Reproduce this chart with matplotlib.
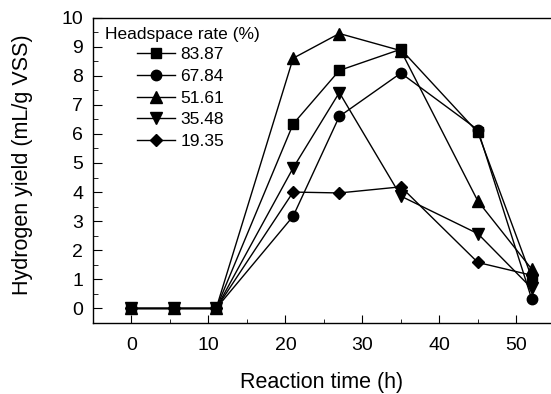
import numpy as np
import matplotlib
matplotlib.use("Agg")
import matplotlib.pyplot as plt
from matplotlib.ticker import MultipleLocator

# reaction time (h)
time_h = [0, 5.5, 11, 21, 27, 35, 45, 52]

rates = ["83.87", "67.84", "51.61", "35.48", "19.35"]
y_8387 = [0, 0, 0, 6.34, 8.18, 8.91, 6.05, 1.06]
y_6784 = [0, 0, 0, 3.17, 6.60, 8.09, 6.14, 0.32]
y_5161 = [0, 0, 0, 8.60, 9.45, 8.86, 3.69, 1.35]
y_3548 = [0, 0, 0, 4.83, 7.42, 3.86, 2.57, 0.69]
y_1935 = [0, 0, 0, 4.00, 3.97, 4.18, 1.58, 1.14]
series = [y_8387, y_6784, y_5161, y_3548, y_1935]
markers = ["s", "o", "^", "v", "D"]
msizes = [7, 7.5, 8.5, 8.5, 6.5]

plt.rcParams["font.family"] = ["Liberation Sans", "DejaVu Sans"]
matplotlib.rcParams["axes.unicode_minus"] = False

fig = plt.figure(figsize=(5.51, 3.94), dpi=100)
W, H = 551.0, 394.0
ax = fig.add_axes([93 / W, 71 / H, (551 - 93) / W, (323 - 17.5) / H])

handles = []
for ys, mk, ms, lab in zip(series, markers, msizes, rates):
    h, = ax.plot(time_h, ys, marker=mk, color="black", markersize=ms,
                 linewidth=1.0, label=lab)
    handles.append(h)

ax.set_xlim(-5, 54.5)
ax.set_ylim(-0.5, 10)
ax.xaxis.set_major_locator(MultipleLocator(10))
ax.xaxis.set_minor_locator(MultipleLocator(5))
ax.yaxis.set_major_locator(MultipleLocator(1))
ax.yaxis.set_minor_locator(MultipleLocator(0.5))
ax.tick_params(which="both", direction="in", labelsize=14)
ax.tick_params(axis="x", which="major", length=6, pad=10)
ax.tick_params(axis="x", which="minor", length=3)
ax.tick_params(axis="y", which="major", length=6.5, pad=7)
ax.tick_params(axis="y", which="minor", length=3.5)
ax.tick_params(top=False, right=False)
ax.spines["right"].set_visible(False)
for s in ["left", "bottom", "top"]:
    ax.spines[s].set_linewidth(1.0)

ax.set_xlabel("Reaction time (h)", fontsize=15.5, va="center")
ax.xaxis.set_label_coords(0.5, -0.196)
ax.set_ylabel("Hydrogen yield (mL/g VSS)", fontsize=15.5, va="center")
ax.yaxis.set_label_coords(-0.155, 0.517)

ax.text(12 / 458, 1 - (34 - 17.5) / 305.5, "Headspace rate (%)",
        transform=ax.transAxes, fontsize=12.5, va="center", ha="left")
ax.legend(handles=handles, loc="upper left",
          bbox_to_anchor=(44 / 458, 1 - (47 - 17.5) / 305.5),
          frameon=False, fontsize=12.5, handlelength=2.2,
          handletextpad=0.3, labelspacing=0.38, borderpad=0, borderaxespad=0)

plt.savefig("out.png", dpi=100)
